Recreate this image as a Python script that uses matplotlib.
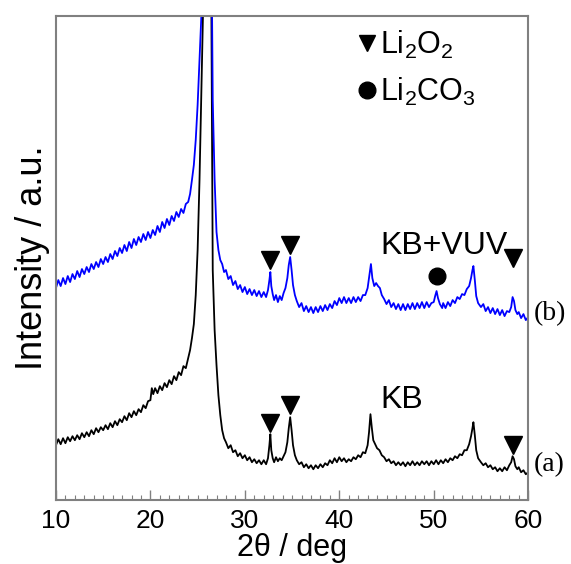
import numpy as np
import matplotlib
matplotlib.use('Agg')
import matplotlib.pyplot as plt
from matplotlib.ticker import MultipleLocator

plt.rcParams['font.family'] = ['Liberation Sans', 'DejaVu Sans']
plt.rcParams['mathtext.default'] = 'regular'

# pattern (a) KB - 2theta [deg], intensity [a.u.]
x_a = [10.0, 10.25, 10.5, 10.75, 11.0, 11.25, 11.5, 11.75, 12.0, 12.25, 12.5, 12.75,
       13.0, 13.25, 13.5, 13.75, 14.0, 14.25, 14.5, 14.75, 15.0, 15.25, 15.5, 15.75,
       16.0, 16.25, 16.5, 16.75, 17.0, 17.25, 17.5, 17.75, 18.0, 18.25, 18.5, 18.75,
       19.0, 19.25, 19.5, 19.75, 20.0, 20.15, 20.3, 20.5, 20.75, 21.0, 21.25, 21.5,
       21.75, 22.0, 22.25, 22.5, 22.75, 23.0, 23.25, 23.5, 23.75, 24.0, 24.2, 24.4,
       24.6, 24.8, 25.0, 25.2, 25.4, 25.6, 26.0, 26.45, 26.6, 26.8, 27.0, 27.2, 27.4,
       27.6, 27.8, 28.0, 28.25, 28.5, 28.75, 29.0, 29.25, 29.5, 29.75, 30.0, 30.25,
       30.5, 30.75, 31.0, 31.25, 31.5, 31.75, 32.0, 32.25, 32.45, 32.6, 32.7, 32.8,
       32.95, 33.1, 33.3, 33.5, 33.7, 33.9, 34.1, 34.3, 34.5, 34.65, 34.8, 34.95,
       35.1, 35.3, 35.5, 35.75, 36.0, 36.25, 36.5, 36.75, 37.0, 37.25, 37.5, 37.75,
       38.0, 38.25, 38.5, 38.75, 39.0, 39.25, 39.5, 39.75, 40.0, 40.25, 40.5, 40.75,
       41.0, 41.25, 41.5, 41.75, 42.0, 42.25, 42.5, 42.75, 43.0, 43.15, 43.3, 43.45,
       43.6, 43.8, 44.0, 44.25, 44.5, 44.75, 45.0, 45.25, 45.5, 45.75, 46.0, 46.25,
       46.5, 46.75, 47.0, 47.25, 47.5, 47.75, 48.0, 48.25, 48.5, 48.75, 49.0, 49.25,
       49.5, 49.75, 50.0, 50.25, 50.5, 50.75, 51.0, 51.25, 51.5, 51.75, 52.0, 52.25,
       52.5, 52.75, 53.0, 53.25, 53.5, 53.75, 53.95, 54.1, 54.2, 54.35, 54.5, 54.7,
       55.0, 55.25, 55.5, 55.75, 56.0, 56.25, 56.5, 56.75, 57.0, 57.25, 57.5, 57.75,
       58.0, 58.2, 58.35, 58.5, 58.65, 58.85, 59.0, 59.25, 59.5, 59.75, 60.0]
y_a = [55, 61, 56, 62, 57, 63, 59, 64, 60, 65, 61, 67,
       63, 68, 64, 70, 66, 72, 68, 73, 70, 75, 71, 77,
       73, 79, 75, 81, 78, 84, 80, 87, 83, 89, 85, 91,
       88, 95, 92, 99, 100, 112, 106, 112, 107, 114, 110, 117,
       113, 120, 116, 124, 120, 128, 125, 134, 132, 142, 150, 162,
       176, 205, 250, 320, 410, 500, 800, 500, 230, 170, 135, 105, 85,
       70, 62, 58, 52, 55, 48, 50, 44, 47, 42, 45, 40,
       43, 38, 41, 37, 40, 36, 40, 36, 42, 55, 66, 50,
       42, 38, 43, 39, 42, 40, 44, 48, 58, 72, 83, 70,
       55, 45, 40, 36, 38, 33, 36, 32, 35, 31, 35, 32,
       36, 33, 37, 35, 40, 37, 42, 38, 43, 39, 42, 38,
       41, 39, 43, 41, 45, 43, 48, 47, 55, 68, 86, 72,
       60, 56, 52, 50, 45, 43, 39, 41, 37, 39, 35, 38,
       35, 38, 34, 38, 35, 39, 35, 38, 35, 39, 36, 39,
       35, 39, 36, 40, 36, 40, 37, 41, 38, 42, 40, 44,
       42, 46, 45, 50, 50, 56, 64, 72, 78, 65, 50, 42,
       38, 35, 37, 33, 35, 31, 33, 29, 32, 29, 33, 30,
       35, 38, 44, 41, 34, 31, 33, 28, 30, 26, 28]

# pattern (b) KB+VUV
x_b = [10.0, 10.25, 10.5, 10.75, 11.0, 11.25, 11.5, 11.75, 12.0, 12.25, 12.5, 12.75,
       13.0, 13.25, 13.5, 13.75, 14.0, 14.25, 14.5, 14.75, 15.0, 15.25, 15.5, 15.75,
       16.0, 16.25, 16.5, 16.75, 17.0, 17.25, 17.5, 17.75, 18.0, 18.25, 18.5, 18.75,
       19.0, 19.25, 19.5, 19.75, 20.0, 20.25, 20.5, 20.75, 21.0, 21.25, 21.5, 21.75,
       22.0, 22.25, 22.5, 22.75, 23.0, 23.25, 23.5, 23.75, 24.0, 24.2, 24.4, 24.6,
       24.8, 25.0, 25.2, 25.4, 25.5, 26.0, 26.5, 26.6, 26.8, 27.0, 27.2, 27.4, 27.6,
       27.8, 28.0, 28.25, 28.5, 28.75, 29.0, 29.25, 29.5, 29.75, 30.0, 30.25, 30.5,
       30.75, 31.0, 31.25, 31.5, 31.75, 32.0, 32.25, 32.45, 32.6, 32.7, 32.8, 32.95,
       33.1, 33.3, 33.5, 33.7, 33.9, 34.1, 34.3, 34.5, 34.65, 34.8, 34.95, 35.1,
       35.3, 35.5, 35.75, 36.0, 36.25, 36.5, 36.75, 37.0, 37.25, 37.5, 37.75, 38.0,
       38.25, 38.5, 38.75, 39.0, 39.25, 39.5, 39.75, 40.0, 40.25, 40.5, 40.75, 41.0,
       41.25, 41.5, 41.75, 42.0, 42.25, 42.5, 42.75, 43.0, 43.15, 43.35, 43.5, 43.7,
       43.9, 44.1, 44.3, 44.5, 44.75, 45.0, 45.25, 45.5, 45.75, 46.0, 46.25, 46.5,
       46.75, 47.0, 47.25, 47.5, 47.75, 48.0, 48.25, 48.5, 48.75, 49.0, 49.25, 49.5,
       49.75, 50.0, 50.15, 50.3, 50.45, 50.65, 50.9, 51.0, 51.25, 51.5, 51.75, 52.0,
       52.25, 52.5, 52.75, 53.0, 53.25, 53.5, 53.75, 53.95, 54.1, 54.2, 54.35, 54.5,
       54.7, 55.0, 55.25, 55.5, 55.75, 56.0, 56.25, 56.5, 56.75, 57.0, 57.25, 57.5,
       57.75, 58.0, 58.2, 58.35, 58.5, 58.65, 58.85, 59.0, 59.25, 59.5, 59.75, 60.0]
y_b = [212, 220, 214, 222, 216, 224, 218, 226, 221, 229, 223, 231,
       226, 233, 228, 236, 231, 238, 233, 241, 236, 243, 238, 246,
       241, 249, 244, 252, 247, 255, 249, 258, 252, 261, 255, 263,
       258, 266, 260, 268, 262, 270, 265, 274, 268, 278, 272, 281,
       275, 284, 279, 288, 283, 291, 287, 296, 298, 306, 320, 335,
       360, 395, 440, 485, 520, 800, 520, 400, 320, 268, 250, 240, 236,
       228, 230, 221, 224, 215, 219, 211, 215, 208, 213, 206, 211,
       205, 210, 204, 209, 203, 208, 203, 210, 220, 228, 214, 206,
       200, 205, 198, 204, 200, 207, 212, 222, 235, 243, 230, 215,
       205, 199, 193, 197, 189, 194, 188, 193, 187, 193, 188, 194,
       189, 195, 190, 196, 192, 199, 195, 202, 197, 203, 197, 202,
       197, 203, 198, 203, 199, 205, 205, 212, 222, 236, 222, 214,
       217, 214, 212, 205, 201, 196, 200, 193, 197, 191, 196, 190,
       196, 190, 196, 191, 197, 191, 197, 192, 198, 192, 198, 193,
       197, 198, 204, 209, 202, 196, 192, 197, 192, 198, 194, 200,
       197, 203, 201, 206, 205, 211, 214, 222, 230, 234, 220, 204,
       197, 193, 196, 189, 193, 187, 192, 186, 191, 185, 190, 184,
       189, 188, 193, 203, 199, 190, 186, 188, 182, 186, 180, 183]

# phase markers: (2theta, intensity)
li2o2_a_x = [32.7, 34.8, 58.4]
li2o2_a_y = [77, 95, 55]
li2o2_b_x = [32.7, 34.8, 58.4]
li2o2_b_y = [240, 255, 242]
li2co3_b_x = [50.3]
li2co3_b_y = [224]

fig = plt.figure(figsize=(5.71, 5.64), dpi=100)
ax = fig.add_axes([0.098, 0.113, 0.827, 0.859])

ax.plot(x_a, y_a, color='black', lw=1.3)
ax.plot(x_b, y_b, color='#0000ff', lw=1.3)

ax.plot(li2o2_a_x, li2o2_a_y, 'kv', ms=13, ls='none')
ax.plot(li2o2_b_x, li2o2_b_y, 'kv', ms=13, ls='none')
ax.plot(li2co3_b_x, li2co3_b_y, 'ko', ms=12, ls='none')

# legend drawn by hand
ax.plot([42.9], [457], 'kv', ms=12)
ax.plot([42.9], [410], 'ko', ms=12)
ax.text(44.3, 455, 'Li$_2$O$_2$', fontsize=22, va='center', ha='left')
ax.text(44.3, 408, 'Li$_2$CO$_3$', fontsize=22, va='center', ha='left')

ax.text(44.3, 254, 'KB+VUV', fontsize=23, va='center', ha='left')
ax.text(44.3, 100, 'KB', fontsize=23, va='center', ha='left')

ax.text(60.6, 186, '(b)', fontsize=20, va='center', ha='left',
        family='Liberation Serif', clip_on=False)
ax.text(60.6, 36, '(a)', fontsize=20, va='center', ha='left',
        family='Liberation Serif', clip_on=False)

ax.set_xlim(10, 60)
ax.set_ylim(0, 484)
ax.set_yticks([])
ax.xaxis.set_major_locator(MultipleLocator(10))
ax.xaxis.set_minor_locator(MultipleLocator(1))
ax.tick_params(axis='x', which='both', direction='in', colors='#808080',
               labelcolor='black', labelsize=19, pad=6)
ax.tick_params(axis='x', which='major', length=7, width=1)
ax.tick_params(axis='x', which='minor', length=3.5, width=0.8)

for s in ax.spines.values():
    s.set_color('#808080')
    s.set_linewidth(1.5)

ax.set_xlabel('2θ / deg', fontsize=22, labelpad=0)
ax.set_ylabel('Intensity / a.u.', fontsize=26, labelpad=4)

plt.savefig('out.png', dpi=100)
